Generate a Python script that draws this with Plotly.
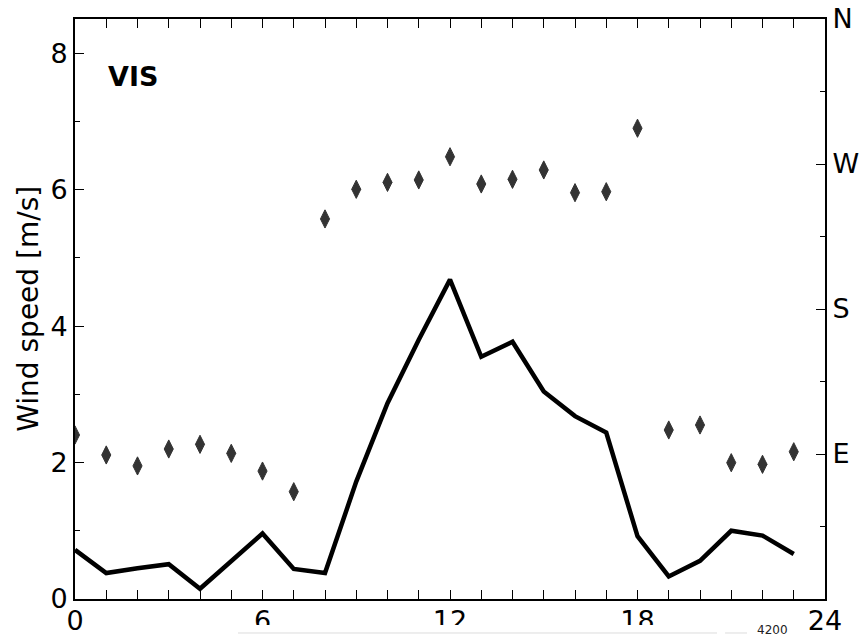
import plotly.graph_objects as go

hours = list(range(24))
wind_speed = [0.72, 0.38, 0.45, 0.51, 0.15, 0.55, 0.96, 0.44, 0.38, 1.72, 2.87, 3.80,
              4.68, 3.55, 3.77, 3.04, 2.68, 2.44, 0.92, 0.33, 0.56, 1.00, 0.93, 0.66]
wind_dir = [101.8, 89.4, 82.6, 93.1, 96.0, 90.4, 79.4, 66.6, 235.9, 254.3, 258.6, 260.1,
            274.5, 257.6, 260.5, 266.3, 252.2, 252.8, 292.2, 104.9, 108.0, 84.6, 83.6, 91.4]
x_ticks = [0, 6, 12, 18, 24]
y_ticks = [0, 2, 4, 6, 8]
dir_ticks = [90, 180, 270, 360]
dir_labels = ["E", "S", "W", "N"]

FONT = "DejaVu Sans"
TICKFONT = dict(family=FONT, size=27, color="black")

fig = go.Figure()
fig.add_trace(go.Scatter(x=hours, y=wind_speed, mode="lines",
                         line=dict(color="black", width=4.5), showlegend=False))
fig.add_trace(go.Scatter(x=hours, y=wind_dir, mode="markers", yaxis="y2",
                         marker=dict(symbol="diamond-tall", size=13, color="#333333",
                                     line=dict(width=1, color="#333333")),
                         showlegend=False))

fig.update_layout(
    width=865, height=634,
    margin=dict(l=75, r=40, t=19, b=35, autoexpand=False),
    plot_bgcolor="white", paper_bgcolor="white",
    xaxis=dict(range=[0, 24], tickvals=x_ticks, ticks="inside", ticklen=9, tickwidth=1.2,
               tickcolor="black", showline=True, linecolor="black", linewidth=2,
               mirror="allticks", showgrid=False, zeroline=False, tickfont=TICKFONT,
               automargin=False, ticklabelstandoff=-3,
               minor=dict(dtick=1, tick0=0, ticks="inside", ticklen=5, tickcolor="black",
                          tickwidth=1.2, showgrid=False)),
    yaxis=dict(range=[0, 8.5], tickvals=y_ticks, ticks="inside", ticklen=9, tickwidth=1.2,
               tickcolor="black", showline=True, linecolor="black", linewidth=2,
               mirror=True, showgrid=False, zeroline=False, tickfont=TICKFONT,
               automargin=False,
               minor=dict(dtick=1, tick0=0, ticks="inside", ticklen=5, tickcolor="black",
                          tickwidth=1.2, showgrid=False)),
    yaxis2=dict(range=[0, 360], overlaying="y", side="right", tickvals=dir_ticks,
                ticktext=dir_labels, ticks="inside", ticklen=9, tickwidth=1.2,
                tickcolor="black", showline=True, linecolor="black", linewidth=2,
                showgrid=False, zeroline=False, tickfont=TICKFONT, automargin=False,
                minor=dict(dtick=45, tick0=0, ticks="inside", ticklen=5,
                           tickcolor="black", tickwidth=1.2, showgrid=False)),
    annotations=[
        dict(text="<b>VIS</b>", xref="paper", yref="paper", x=0.041, y=0.9,
             xanchor="left", yanchor="middle", showarrow=False,
             font=dict(family=FONT, size=27, color="black")),
        dict(text="Wind speed [m/s]", xref="paper", yref="paper", x=-0.063, y=0.5,
             xanchor="center", yanchor="middle", textangle=-90, showarrow=False,
             font=dict(family=FONT, size=28, color="black")),
        dict(text="4200", xref="paper", yref="paper", x=0.907, y=-0.053,
             xanchor="left", yanchor="middle", showarrow=False,
             font=dict(family=FONT, size=12, color="#222222")),
    ],
    shapes=[
        dict(type="rect", xref="paper", yref="paper", x0=0.2133, x1=0.856,
             y0=-0.0448, y1=-0.075, fillcolor="white", line=dict(width=0), layer="above"),
        dict(type="line", xref="paper", yref="paper", x0=0.2173, x1=0.856,
             y0=-0.0586, y1=-0.0586, line=dict(color="#dddddd", width=1), layer="above"),
        dict(type="line", xref="paper", yref="paper", x0=0.8667, x1=0.896,
             y0=-0.0586, y1=-0.0586, line=dict(color="#dddddd", width=1), layer="above"),
    ],
)

fig.write_html("out.html")
